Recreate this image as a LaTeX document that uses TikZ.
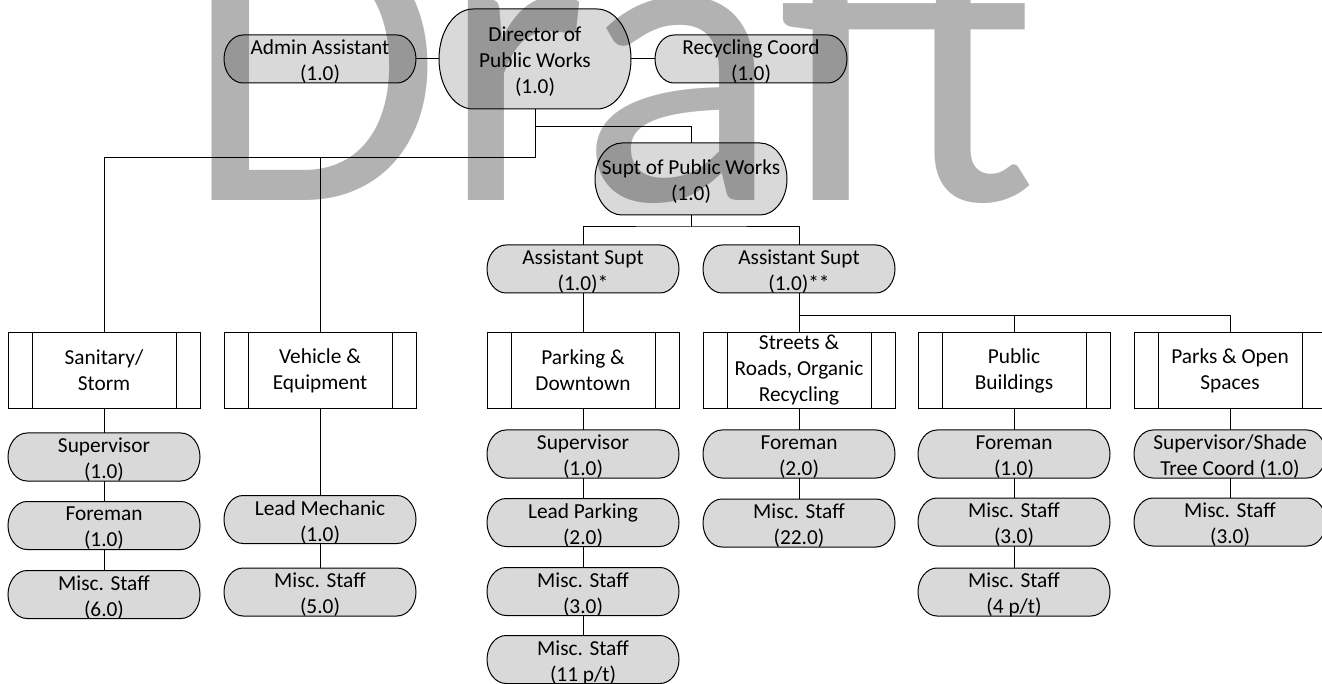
\documentclass[tikz,border=0pt]{standalone}
\usepackage{fontspec}
\setmainfont{Carlito}
\usetikzlibrary{calc}

\definecolor{boxgray}{HTML}{D9D9D9}
\newcommand\orgfont{\fontsize{16}{19.5}\selectfont}

\tikzset{
  termline/.style={draw=black, fill=boxgray, line width=0.75pt},
  termframe/.style={inner sep=0pt, minimum width=144pt},
  termtext/.style={inner sep=0pt, align=center, font=\orgfont},
  subproc/.style={draw=black, fill=white, line width=0.75pt, minimum width=144pt,
    minimum height=57pt, inner sep=0pt, align=center, font=\orgfont,
    path picture={\draw[line width=0.75pt]
      ([xshift=18pt]path picture bounding box.north west) -- ([xshift=18pt]path picture bounding box.south west)
      ([xshift=-18pt]path picture bounding box.north east) -- ([xshift=-18pt]path picture bounding box.south east);}},
  link/.style={draw=black, line width=0.75pt},
  watermark/.style={anchor=base west, inner sep=0pt, text=black, opacity=0.3,
    font=\fontsize{315}{315}\selectfont},
}

% rounded terminator: name, centre x, centre y, height, end radius, text
\newcommand\termbox[6]{%
  \pgfmathsetmacro\tbL{#2-96}%
  \pgfmathsetmacro\tbR{#2+96}%
  \pgfmathsetmacro\tbT{#3-#4/2}%
  \pgfmathsetmacro\tbB{#3+#4/2}%
  \pgfmathsetmacro\tbA{#5*0.4477}%
  \pgfmathsetmacro\tbK{#4*0.5*0.4477}%
  \path[termline] ({\tbL+#5},\tbT) -- ({\tbR-#5},\tbT)
    .. controls ({\tbR-\tbA},\tbT) and (\tbR,{\tbT+\tbK}) .. (\tbR,#3)
    .. controls (\tbR,{\tbB-\tbK}) and ({\tbR-\tbA},\tbB) .. ({\tbR-#5},\tbB)
    -- ({\tbL+#5},\tbB)
    .. controls ({\tbL+\tbA},\tbB) and (\tbL,{\tbB-\tbK}) .. (\tbL,#3)
    .. controls (\tbL,{\tbT+\tbK}) and ({\tbL+\tbA},\tbT) .. cycle;
  \node[termframe, minimum height={#4*0.75pt}] (#1) at (#2,#3) {};
  \node[termtext] (#1-text) at (#2,{#3+3}) {#6};
}

\begin{document}
\begin{tikzpicture}[x=0.75pt, y=-0.75pt]
\useasboundingbox (0,0) rectangle (1322,684);
\clip (0,0) rectangle (1322,684);

% top level
\termbox{admin}{320}{59}{48}{19}{Admin Assistant\\(1.0)}
\termbox{dir}{535}{59}{100}{34}{Director of\\Public Works\\(1.0)}
\termbox{recyc}{751}{59}{48}{19}{Recycling Coord\\(1.0)}
\termbox{supt}{691}{179}{72}{27}{Supt of Public Works\\(1.0)}
\termbox{as1}{583}{269}{48}{19}{Assistant Supt\\(1.0)*}
\termbox{as2}{799}{269}{48}{19}{Assistant Supt\\(1.0)**}

% divisions
\node[subproc] (san) at (104,370.5) {Sanitary/\\Storm};
\node[subproc] (veh) at (320,370.5) {Vehicle \&\\Equipment};
\node[subproc] (park) at (583,370.5) {Parking \&\\Downtown};
\node[subproc] (street) at (799,370.5) {Streets \&\\Roads, Organic\\Recycling};
\node[subproc] (pub) at (1014,370.5) {Public\\Buildings};
\node[subproc] (parks) at (1230,370.5) {Parks \& Open\\Spaces};

% staff
\termbox{sup1}{104}{457}{48}{19}{Supervisor\\(1.0)}
\termbox{fore1}{104}{525.5}{48}{19}{Foreman\\(1.0)}
\termbox{misc1}{104}{594.5}{48}{19}{Misc. Staff\\(6.0)}

\termbox{lead}{320}{519.5}{48}{19}{Lead Mechanic\\(1.0)}
\termbox{misc2}{320}{592}{48}{19}{Misc. Staff\\(5.0)}

\termbox{sup2}{583}{454}{48}{19}{Supervisor\\(1.0)}
\termbox{leadp}{583}{522.5}{48}{19}{Lead Parking\\(2.0)}
\termbox{misc3}{583}{591.5}{48}{19}{Misc. Staff\\(3.0)}
\termbox{misc4}{583}{659.5}{48}{19}{Misc. Staff\\(11 p/t)}

\termbox{fore2}{799}{454}{48}{19}{Foreman\\(2.0)}
\termbox{misc5}{799}{523}{48}{19}{Misc. Staff\\(22.0)}

\termbox{fore3}{1014}{454}{48}{19}{Foreman\\(1.0)}
\termbox{misc6}{1014}{522}{48}{19}{Misc. Staff\\(3.0)}
\termbox{misc7}{1014}{592}{48}{19}{Misc. Staff\\(4 p/t)}

\termbox{sup3}{1230}{454}{48}{19}{Supervisor/Shade\\Tree Coord (1.0)}
\termbox{misc8}{1230}{522}{48}{19}{Misc. Staff\\(3.0)}

% junction points
\coordinate (jA) at (535,127);
\coordinate (jB) at (535,158);
\coordinate (jC) at (691,227);
\coordinate (jD) at (799,316);

% connectors
\draw[link] (admin.east) -- (dir.west);
\draw[link] (dir.east) -- (recyc.west);
\draw[link] (dir.south) -- (jB);
\draw[link] (jB) -| (san.north);
\draw[link] (jB) -| (veh.north);
\draw[link] (jA) -| (supt.north);
\draw[link] (supt.south) -- (jC);
\draw[link] (as1.north) |- (jC) -| (as2.north);
\draw[link] (as1.south) -- (park.north);
\draw[link] (as2.south) -- (street.north);
\draw[link] (jD) -| (pub.north);
\draw[link] (jD) -| (parks.north);

\draw[link] (san.south) -- (sup1.north);
\draw[link] (sup1.south) -- (fore1.north);
\draw[link] (fore1.south) -- (misc1.north);
\draw[link] (veh.south) -- (lead.north);
\draw[link] (lead.south) -- (misc2.north);
\draw[link] (park.south) -- (sup2.north);
\draw[link] (sup2.south) -- (leadp.north);
\draw[link] (leadp.south) -- (misc3.north);
\draw[link] (misc3.south) -- (misc4.north);
\draw[link] (street.south) -- (fore2.north);
\draw[link] (fore2.south) -- (misc5.north);
\draw[link] (pub.south) -- (fore3.north);
\draw[link] (fore3.south) -- (misc6.north);
\draw[link] (misc6.south) -- (misc7.north);
\draw[link] (parks.south) -- (sup3.north);
\draw[link] (sup3.south) -- (misc8.north);

% watermark
\node[watermark] (wm) at (183,201) {Draft};
\end{tikzpicture}
\end{document}
